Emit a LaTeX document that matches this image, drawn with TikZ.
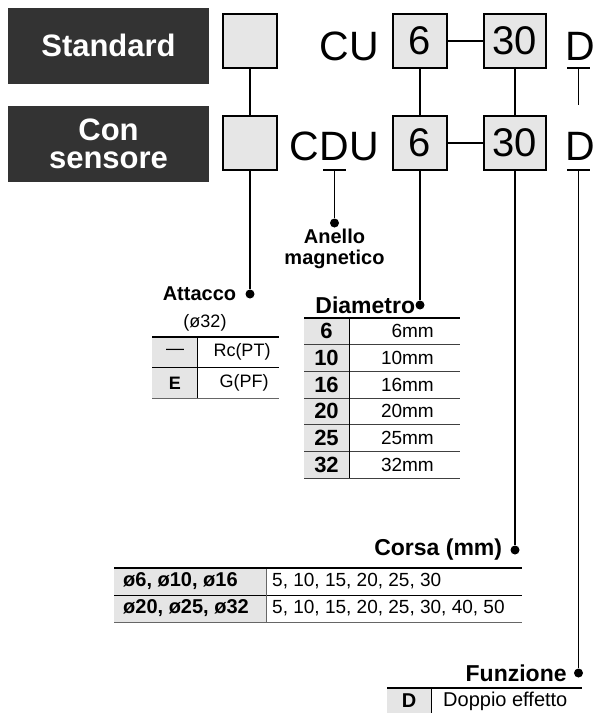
\documentclass[tikz,border=0pt]{standalone}
\usepackage{fontspec}
\setmainfont{Liberation Sans}
\usetikzlibrary{positioning}
\definecolor{darkbox}{RGB}{51,51,51}
\definecolor{selgray}{RGB}{230,230,230}
\definecolor{colgray}{RGB}{229,229,229}
\newcommand{\fsz}[1]{\fontsize{#1}{#1}\selectfont}

\begin{document}
\begin{tikzpicture}[x=1pt,y=-1pt,
  head/.style={fill=darkbox, text=white, minimum width=201pt, minimum height=76pt, inner sep=0pt, align=center, font=\fontsize{31}{28}\selectfont\bfseries},
  sel/.style={draw, line width=1.4pt, fill=selgray, minimum width=54pt, minimum height=54pt, inner sep=0pt, font=\fsz{40}},
  code/.style={inner sep=0pt, font=\fsz{41}},
  link/.style={line width=1.3pt},
  dot/.style={circle, fill, inner sep=0pt, minimum size=9pt},
  lbl/.style={inner sep=0pt, font=\fsz{23}\bfseries},
  cell/.style={inner sep=0pt, font=\fsz{19}},
  bcell/.style={inner sep=0pt, font=\fsz{20}\bfseries}]%
  \def\rh{26.67}%
  \useasboundingbox (0,0) rectangle (595,713);

  % headers
  \node[head] (std) at (108.5,45.5) {Standard};
  \node[head] (sens) at (108.5,144) {Con\\sensore};

  % code boxes
  \node[sel] (s1) at (250,41) {};
  \node[sel] (s2) at (250,143) {};
  \node[sel] (d1) at (420,41) {6};
  \node[sel, minimum width=62pt] (l1) at (515,41) {30};
  \node[sel] (d2) at (420,143) {6};
  \node[sel, minimum width=62pt] (l2) at (515,143) {30};
  \node[code, anchor=base east] (cu) at (379,60) {CU};
  \node[code, anchor=base east] (cdu) at (379,160) {CDU};
  \node[code, anchor=base west] (f1) at (565,60) {D};
  \node[code, anchor=base west] (f2) at (565,160) {D};

  % underlines
  \draw[link] (567,68) -- (590,68);
  \draw[link] (323,170) -- (346,170);
  \draw[link] (567,170) -- (590,170);
  \coordinate (u1) at (578.5,68);
  \coordinate (t1) at (578.5,105);
  \coordinate (u2) at (334.5,170);
  \coordinate (u3) at (578.5,170);

  % dots
  \node[dot] (mag) at (334.5,223) {};
  \node[dot] (att) at (250,294) {};
  \node[dot] (dia) at (420,305) {};
  \node[dot] (cor) at (515,550) {};
  \node[dot] (fun) at (578.5,673) {};

  % links
  \draw[link] (s1) -- (s2);
  \draw[link] (s2) -- (att);
  \draw[link] (d1) -- (d2);
  \draw[link] (l1) -- (l2);
  \draw[line width=2.4pt] (d1) -- (l1);
  \draw[line width=2.4pt] (d2) -- (l2);
  \draw[link] (d2) -- (dia);
  \draw[link] (l2) -- (cor);
  \draw[link] (u1) -- (t1);
  \draw[link] (u2) -- (mag);
  \draw[link] (u3) -- (fun);

  % labels
  \node[lbl, font=\fsz{20}\bfseries, left=9pt of att] (attl) {Attacco};
  \node[cell, font=\fsz{18}] (attd) at (205,323) {(ø32)};
  \node[lbl, below=1pt of mag, align=center, font=\fontsize{20}{21}\selectfont\bfseries] (magl) {Anello\\magnetico};
  \node[lbl, left=0pt of dia] (dial) {Diametro};
  \node[lbl, left=8pt of cor] (corl) {Corsa (mm)};
  \node[lbl, left=7pt of fun] (funl) {Funzione};

  % Attacco table
  \fill[colgray] (152,337) rectangle (197,398);
  \draw[line width=1pt] (152,367) -- (279,367);
  \draw[line width=1pt, black!60] (152,398) -- (279,398);
  \draw[line width=1pt] (197,337) -- (197,398);
  \draw[line width=2pt] (152,337) -- (279,337);
  \node[cell, font=\fsz{18}] (ak1) at (175,352) {—};
  \node[cell, font=\fsz{18}] (av1) at (242,352) {Rc(PT)};
  \node[bcell, font=\fsz{18}\bfseries] (ak2) at (175,383) {E};
  \node[cell, font=\fsz{18}] (av2) at (244,383) {G(PF)};

  % Diametro table
  \fill[colgray] (304,318) rectangle (349,478);
  \foreach \k [count=\i] in {6,10,16,20,25,32}{
    \pgfmathsetmacro\yc{318+(\i-0.5)*\rh}
    \pgfmathsetmacro\yl{318+\i*\rh}
    \node[bcell, font=\fsz{22}\bfseries] (dk\i) at (326.5,\yc) {\k};
    \node[cell, anchor=east] (dv\i) at (434,\yc) {\k mm};
    \draw[line width=1pt, black!75] (304,\yl) -- (460,\yl);
  }
  \draw[line width=1pt] (349,318) -- (349,478);
  \draw[line width=2pt] (304,318) -- (460,318);

  % Corsa table
  \fill[colgray] (114,568) rectangle (266,622);
  \draw[line width=1pt] (114,595) -- (522,595);
  \draw[line width=1pt, black!60] (114,622) -- (522,622);
  \draw[line width=1pt, black!60] (266,568) -- (266,622);
  \draw[line width=2pt] (114,568) -- (522,568);
  \node[bcell, anchor=west] (ck1) at (123,581.5) {ø6, ø10, ø16};
  \node[cell, anchor=west] (cv1) at (272,581.5) {5, 10, 15, 20, 25, 30};
  \node[bcell, anchor=west] (ck2) at (123,608.5) {ø20, ø25, ø32};
  \node[cell, anchor=west] (cv2) at (272,608.5) {5, 10, 15, 20, 25, 30, 40, 50};

  % Funzione table
  \fill[colgray] (387,688) rectangle (431,713);
  \draw[line width=1pt] (431,688) -- (431,713);
  \draw[line width=2pt] (387,688) -- (582,688);
  \node[bcell] (fk1) at (409,701) {D};
  \node[cell, font=\fsz{20}, anchor=west] (fv1) at (443,701) {Doppio effetto};
\end{tikzpicture}
\end{document}
